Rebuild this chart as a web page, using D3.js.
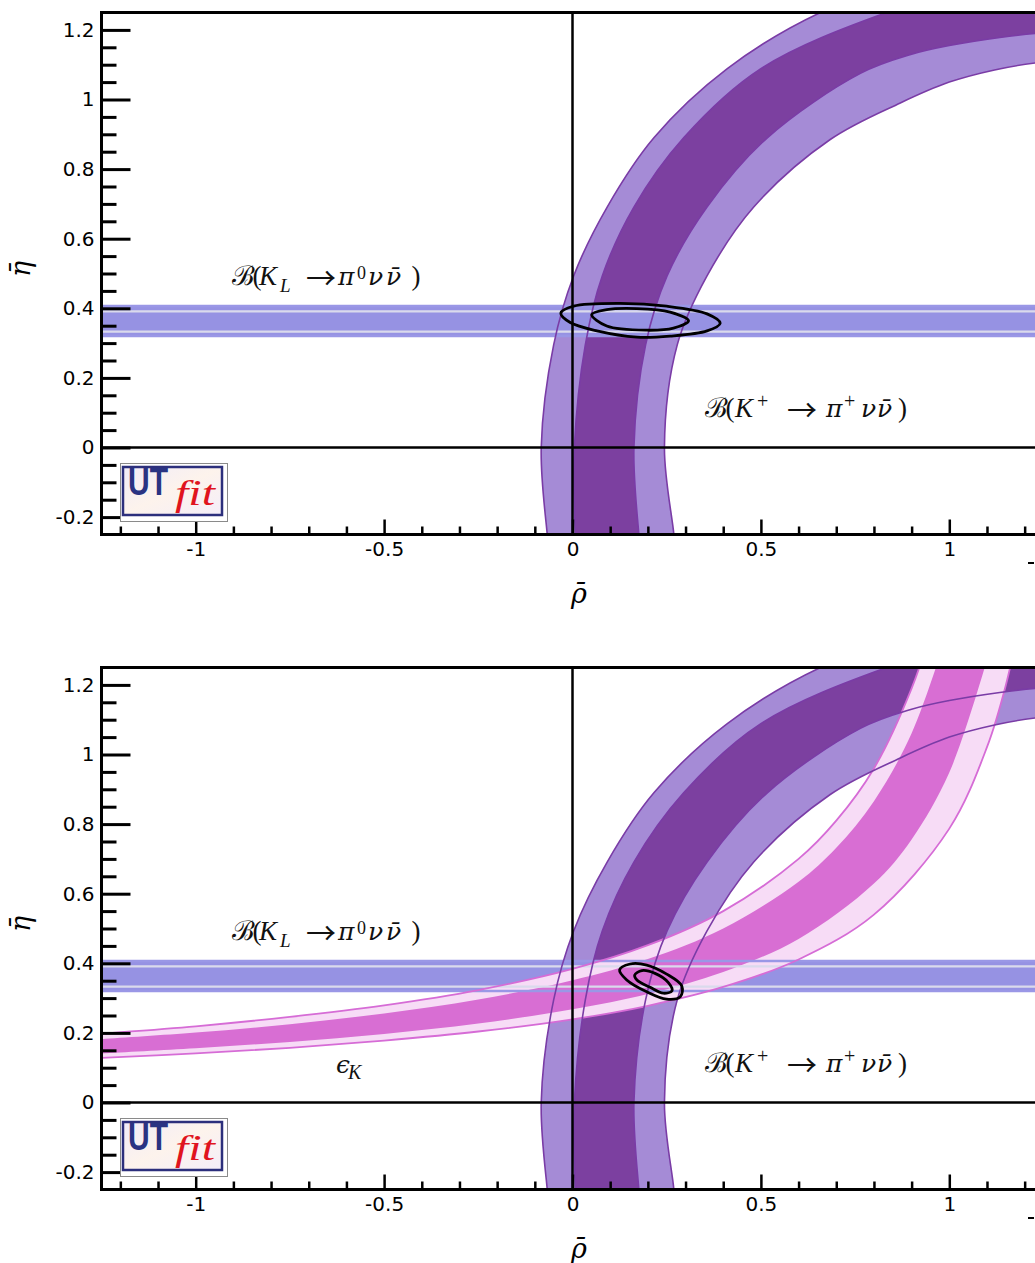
<!DOCTYPE html>
<html>
<head>
<meta charset="utf-8">
<script src="https://cdnjs.cloudflare.com/ajax/libs/d3/7.8.5/d3.min.js"></script>
<style>
  html, body { margin: 0; padding: 0; background: #fff; overflow: hidden; }
  svg { display: block; }
</style>
</head>
<body>
<div id="chart"></div>
<script>
// ---- axis ticks ----
const xMajorTicks = [-1, -0.5, 0, 0.5, 1];
const xMinorTicks = [-1.2, -1.1, -0.9, -0.8, -0.7, -0.6, -0.4, -0.3, -0.2, -0.1,
                     0.1, 0.2, 0.3, 0.4, 0.6, 0.7, 0.8, 0.9, 1.1, 1.2];
const yMajorTicks = [-0.2, 0, 0.2, 0.4, 0.6, 0.8, 1, 1.2];
const yMinorTicks = [-0.15, -0.1, -0.05, 0.05, 0.1, 0.15, 0.25, 0.3, 0.35, 0.45, 0.5, 0.55,
                     0.65, 0.7, 0.75, 0.85, 0.9, 0.95, 1.05, 1.1, 1.15];

// ---- B(K+ -> pi+ nu nubar) band edges [rho, eta] ----
const kPlusOuter95 = [[-0.062, -0.30], [-0.067, -0.25], [-0.083, 0], [-0.05, 0.295], [0.003, 0.493],
                      [0.092, 0.691], [0.216, 0.89], [0.41, 1.088], [0.658, 1.25], [1.0, 1.38], [1.4, 1.45]];
const kPlusOuter68 = [[0.012, -0.30], [0.008, -0.25], [0.005, 0], [0.034, 0.295], [0.079, 0.493],
                      [0.163, 0.691], [0.295, 0.89], [0.499, 1.088], [0.834, 1.25], [1.1, 1.33], [1.4, 1.38]];
const kPlusInner68 = [[0.18, -0.30], [0.176, -0.25], [0.163, 0], [0.194, 0.295], [0.251, 0.493],
                      [0.357, 0.691], [0.517, 0.89], [0.764, 1.075], [0.9, 1.13], [1.0, 1.155],
                      [1.134, 1.178], [1.228, 1.19], [1.4, 1.2]];
const kPlusInner95 = [[0.272, -0.30], [0.269, -0.25], [0.244, 0], [0.278, 0.295], [0.357, 0.493],
                      [0.481, 0.691], [0.684, 0.885], [0.87, 0.99], [1.0, 1.05], [1.12, 1.085],
                      [1.228, 1.105], [1.4, 1.12]];

// ---- B(K_L -> pi0 nu nubar) band [eta low, eta high] ----
const kLong95 = [0.3204, 0.4066];
const kLong68 = [0.333, 0.391];

// ---- epsilon_K band edges [rho, eta] ----
const epsUpper95 = [[-1.3, 0.194], [-1.25, 0.198], [-1.0, 0.219], [-0.75, 0.246], [-0.5, 0.279],
                    [-0.25, 0.323], [0, 0.384], [0.2, 0.452], [0.4, 0.55], [0.6, 0.70], [0.7, 0.81],
                    [0.8, 0.96], [0.9, 1.19], [0.95, 1.35]];
const epsUpper68 = [[-1.3, 0.178], [-1.25, 0.182], [-1.0, 0.201], [-0.75, 0.225], [-0.5, 0.256],
                    [-0.25, 0.296], [0, 0.351], [0.2, 0.412], [0.4, 0.50], [0.6, 0.634], [0.7, 0.732],
                    [0.8, 0.866], [0.9, 1.061], [1.0, 1.368]];
const epsLower68 = [[-1.3, 0.138], [-1.25, 0.141], [-1.0, 0.156], [-0.75, 0.174], [-0.5, 0.197],
                    [-0.25, 0.227], [0, 0.268], [0.2, 0.312], [0.4, 0.375], [0.6, 0.47], [0.8, 0.629],
                    [0.9, 0.756], [1.0, 0.948], [1.1, 1.272]];
const epsLower95 = [[-1.3, 0.126], [-1.25, 0.128], [-1.0, 0.141], [-0.75, 0.157], [-0.5, 0.178],
                    [-0.25, 0.204], [0, 0.239], [0.2, 0.278], [0.4, 0.332], [0.6, 0.411], [0.8, 0.54],
                    [1.0, 0.787], [1.1, 1.021], [1.15, 1.199], [1.2, 1.45]];

// ---- fit contours (closed) [rho, eta] ----
const fitTop95 = [[-0.031, 0.386], [0.003, 0.406], [0.127, 0.414], [0.250, 0.406], [0.357, 0.384],
                  [0.392, 0.357], [0.357, 0.335], [0.259, 0.320], [0.171, 0.317], [0.065, 0.335], [-0.006, 0.359]];
const fitTop68 = [[0.051, 0.382], [0.091, 0.396], [0.171, 0.399], [0.259, 0.389], [0.308, 0.364],
                  [0.268, 0.343], [0.197, 0.337], [0.091, 0.349]];
const fitBottom95 = [[0.125, 0.381], [0.153, 0.398], [0.197, 0.395], [0.250, 0.369], [0.290, 0.335],
                     [0.286, 0.304], [0.250, 0.297], [0.197, 0.318], [0.144, 0.352]];
const fitBottom68 = [[0.165, 0.366], [0.184, 0.379], [0.219, 0.371], [0.255, 0.344], [0.264, 0.321],
                     [0.241, 0.314], [0.206, 0.331], [0.171, 0.352]];

// ---- colours ----
const purpleLight = '#a58bd6';
const purpleDark = '#7c40a0';
const purpleLine = '#7a3ca6';
const blueFill = '#9692e3';
const blueLine = '#9a97e6';
const blueInnerLine = '#dadaec';
const pinkLight = '#f7dcf6';
const pinkDark = '#d86ed3';
const pinkLine = '#d66cd6';

const serif = '"Liberation Serif", "DejaVu Serif", serif';
const greek = '"DejaVu Serif", "Liberation Serif", serif';
const sans = '"DejaVu Sans", "Liberation Sans", sans-serif';
const arrowFont = '"Noto Sans CJK JP", "DejaVu Sans", sans-serif';

const svg = d3.select('#chart').append('svg')
    .attr('width', 1035)
    .attr('height', 1263);

const defs = svg.append('defs');
const logoGrad = defs.append('linearGradient').attr('id', 'logoGrad')
    .attr('x1', '0%').attr('y1', '0%').attr('x2', '100%').attr('y2', '100%');
logoGrad.append('stop').attr('offset', '0%').attr('stop-color', '#f1ecf8');
logoGrad.append('stop').attr('offset', '50%').attr('stop-color', '#fdf3ec');
logoGrad.append('stop').attr('offset', '100%').attr('stop-color', '#f4eef9');

// math label: one <text>; each piece is shifted with dx/dy to its offset
function mathText(g, x0, y0, parts) {
    const t = g.append('text')
        .attr('x', x0).attr('y', y0)
        .style('font-family', serif)
        .style('font-size', '27px')
        .attr('fill', '#111');
    let cursor = x0, base = 0;
    parts.forEach(p => {
        const s = t.append('tspan').text(p.t);
        if (p.i) s.style('font-style', 'italic');
        if (p.s) s.style('font-size', p.s + 'px');
        if (p.f) s.style('font-family', p.f);
        const b = p.b || 0;
        s.attr('dx', (x0 + p.x) - cursor).attr('dy', b - base);
        base = b;
        cursor = x0 + p.x + s.node().getComputedTextLength();
    });
    return t;
}

const kLongLabel = [
    { t: '\u212C', x: 0 }, { t: '(', x: 20.5 }, { t: 'K', x: 27, i: 1 },
    { t: 'L', x: 48, i: 1, s: 19, b: 7 },
    { t: '\u2192', x: 74, f: arrowFont, s: 30, b: 4 }, { t: '\u03C0', x: 106, i: 1, f: greek, s: 25 },
    { t: '0', x: 125, s: 18, b: -6 },
    { t: '\u03BD', x: 136, i: 1, f: greek, s: 25 }, { t: '\u03BD\u0304', x: 154, i: 1, f: greek, s: 25 },
    { t: ')', x: 179.5 }
];
const kPlusLabel = [
    { t: '\u212C', x: 0 }, { t: '(', x: 20.5 }, { t: 'K', x: 30, i: 1 },
    { t: '+', x: 52, s: 20, b: -9.5 },
    { t: '\u2192', x: 82, f: arrowFont, s: 30, b: 4 }, { t: '\u03C0', x: 121, i: 1, f: greek, s: 25 },
    { t: '+', x: 139, s: 20, b: -9.5 },
    { t: '\u03BD', x: 156, i: 1, f: greek, s: 25 }, { t: '\u03BD\u0304', x: 172, i: 1, f: greek, s: 25 },
    { t: ')', x: 193 }
];
const epsLabel = [
    { t: '\u03F5', x: 0, i: 1, f: greek, s: 25 }, { t: 'K', x: 12, i: 1, s: 20, b: 6 }
];

function drawPanel(idx, off, showEps) {
    const g = svg.append('g');
    const x = d3.scaleLinear().domain([-1.25, 1.25]).range([101.5, 1043.5]);
    const y = d3.scaleLinear().domain([-0.25, 1.25]).range([534.5 + off, 12.5 + off]);

    const line = d3.line().x(d => x(d[0])).y(d => y(d[1])).curve(d3.curveCatmullRom.alpha(0.5));
    const closed = d3.line().x(d => x(d[0])).y(d => y(d[1])).curve(d3.curveCatmullRomClosed.alpha(0.5));
    const band = (a, b) => line(a) + line(b.slice().reverse()).replace('M', 'L') + 'Z';

    defs.append('clipPath').attr('id', 'clip' + idx)
        .append('rect')
        .attr('x', x(-1.25)).attr('y', y(1.25))
        .attr('width', x(1.25) - x(-1.25)).attr('height', y(-0.25) - y(1.25));

    const plot = g.append('g').attr('clip-path', `url(#clip${idx})`);

    // fills
    plot.append('path').attr('d', band(kPlusOuter95, kPlusInner95)).attr('fill', purpleLight);
    plot.append('path').attr('d', band(kPlusOuter68, kPlusInner68)).attr('fill', purpleDark);

    plot.append('rect')
        .attr('x', x(-1.25)).attr('width', x(1.25) - x(-1.25))
        .attr('y', y(kLong95[1])).attr('height', y(kLong95[0]) - y(kLong95[1]))
        .attr('fill', blueFill);

    if (showEps) {
        plot.append('path').attr('d', band(epsUpper95, epsLower95)).attr('fill', pinkLight);
        plot.append('path').attr('d', band(epsUpper68, epsLower68)).attr('fill', pinkDark);
    }

    // boundary lines
    kLong95.forEach(v => {
        plot.append('line')
            .attr('x1', x(-1.25)).attr('x2', x(1.25))
            .attr('y1', y(v)).attr('y2', y(v))
            .attr('stroke', blueLine).attr('stroke-width', 2.5);
    });
    kLong68.forEach(v => {
        plot.append('line')
            .attr('x1', x(-1.25)).attr('x2', x(1.25))
            .attr('y1', y(v)).attr('y2', y(v))
            .attr('stroke', blueInnerLine).attr('stroke-width', 2.2);
    });

    if (showEps) {
        [epsUpper95, epsLower95].forEach(pts => {
            plot.append('path').attr('d', line(pts))
                .attr('fill', 'none').attr('stroke', pinkLine).attr('stroke-width', 1.8);
        });
    }

    [kPlusOuter95, kPlusOuter68, kPlusInner68, kPlusInner95].forEach(pts => {
        plot.append('path').attr('d', line(pts))
            .attr('fill', 'none').attr('stroke', purpleLine).attr('stroke-width', 1.6);
    });

    // rho = 0 and eta = 0 lines
    plot.append('line').attr('x1', x(-1.25)).attr('x2', x(1.25))
        .attr('y1', y(0)).attr('y2', y(0))
        .attr('stroke', '#000').attr('stroke-width', 2.5);
    plot.append('line').attr('x1', x(0)).attr('x2', x(0))
        .attr('y1', y(-0.25)).attr('y2', y(1.25))
        .attr('stroke', '#000').attr('stroke-width', 2.5);

    // fit contours
    const contours = showEps ? [fitBottom95, fitBottom68] : [fitTop95, fitTop68];
    contours.forEach(pts => {
        plot.append('path').attr('d', closed(pts))
            .attr('fill', 'none').attr('stroke', '#000').attr('stroke-width', 2.8);
    });

    // ticks
    const yMinor = g.append('g').attr('transform', `translate(${x(-1.25)},0)`)
        .call(d3.axisLeft(y).tickValues(yMinorTicks).tickSizeInner(-15).tickSizeOuter(0).tickFormat(''));
    const yMajor = g.append('g').attr('transform', `translate(${x(-1.25)},0)`)
        .call(d3.axisLeft(y).tickValues(yMajorTicks).tickSizeInner(-29).tickSizeOuter(0)
            .tickPadding(7).tickFormat(d => String(d)));
    const xMinor = g.append('g').attr('transform', `translate(0,${y(-0.25)})`)
        .call(d3.axisBottom(x).tickValues(xMinorTicks).tickSizeInner(-8).tickSizeOuter(0).tickFormat(''));
    const xMajor = g.append('g').attr('transform', `translate(0,${y(-0.25)})`)
        .call(d3.axisBottom(x).tickValues(xMajorTicks).tickSizeInner(-15).tickSizeOuter(0)
            .tickPadding(7).tickFormat(d => String(d)));

    [yMinor, yMajor, xMinor, xMajor].forEach(a => {
        a.select('.domain').remove();
        a.selectAll('line').attr('stroke', '#000').attr('stroke-width', 3);
        a.selectAll('text').attr('fill', '#000')
            .style('font-family', sans).style('font-size', '20px');
    });
    xMinor.selectAll('line').attr('stroke-width', 2.5);
    xMajor.selectAll('line').attr('stroke-width', 2.5);

    // frame
    g.append('line').attr('x1', x(-1.25) - 1.5).attr('x2', x(1.25))
        .attr('y1', y(1.25)).attr('y2', y(1.25)).attr('stroke', '#000').attr('stroke-width', 3);
    g.append('line').attr('x1', x(-1.25)).attr('x2', x(-1.25))
        .attr('y1', y(1.25) - 1.5).attr('y2', y(-0.25) + 1.5).attr('stroke', '#000').attr('stroke-width', 3);
    g.append('line').attr('x1', x(-1.25) - 1.5).attr('x2', x(1.25))
        .attr('y1', y(-0.25)).attr('y2', y(-0.25)).attr('stroke', '#000').attr('stroke-width', 3);

    // clipped label fragment at right edge
    g.append('line').attr('x1', 1028).attr('x2', 1034)
        .attr('y1', 563 + off).attr('y2', 563 + off).attr('stroke', '#000').attr('stroke-width', 2);

    // axis titles
    g.append('text').attr('x', 579).attr('y', 603 + off)
        .attr('text-anchor', 'middle')
        .style('font-family', greek).style('font-size', '27px').style('font-style', 'italic')
        .text('\u03C1\u0304');
    g.append('text').attr('transform', `translate(30,${269 + off}) rotate(-90)`)
        .attr('text-anchor', 'middle')
        .style('font-family', greek).style('font-size', '27px').style('font-style', 'italic')
        .text('\u03B7\u0304');

    // band labels
    mathText(g, 232, 284.5 + off, kLongLabel);
    mathText(g, 705, 417 + off, kPlusLabel);
    if (showEps) mathText(g, 336, 1073, epsLabel);

    // UTfit logo
    const logo = g.append('g').attr('transform', `translate(120,${463 + off})`);
    logo.append('rect').attr('x', 0.5).attr('y', 0.5).attr('width', 107).attr('height', 58)
        .attr('fill', '#fff').attr('stroke', '#8a8a8a').attr('stroke-width', 1);
    logo.append('rect').attr('x', 3).attr('y', 4).attr('width', 99).attr('height', 48)
        .attr('fill', 'url(#logoGrad)').attr('stroke', '#2c2f7c').attr('stroke-width', 2.5);
    const logoText = logo.append('text')
        .style('font-family', '"Liberation Sans", Arial, sans-serif');
    logoText.append('tspan').attr('x', 8).attr('y', 32)
        .attr('textLength', 40).attr('lengthAdjust', 'spacingAndGlyphs')
        .style('font-weight', 'bold').style('font-size', '38px')
        .attr('fill', '#2a3382').text('UT');
    logoText.append('tspan').attr('x', 55).attr('y', 42)
        .attr('textLength', 40).attr('lengthAdjust', 'spacingAndGlyphs')
        .style('font-family', '"Liberation Serif", serif')
        .style('font-style', 'italic').style('font-size', '35px')
        .attr('fill', '#e0141e').text('fit');
}

drawPanel(0, 0, false);
drawPanel(1, 655, true);
</script>
</body>
</html>
